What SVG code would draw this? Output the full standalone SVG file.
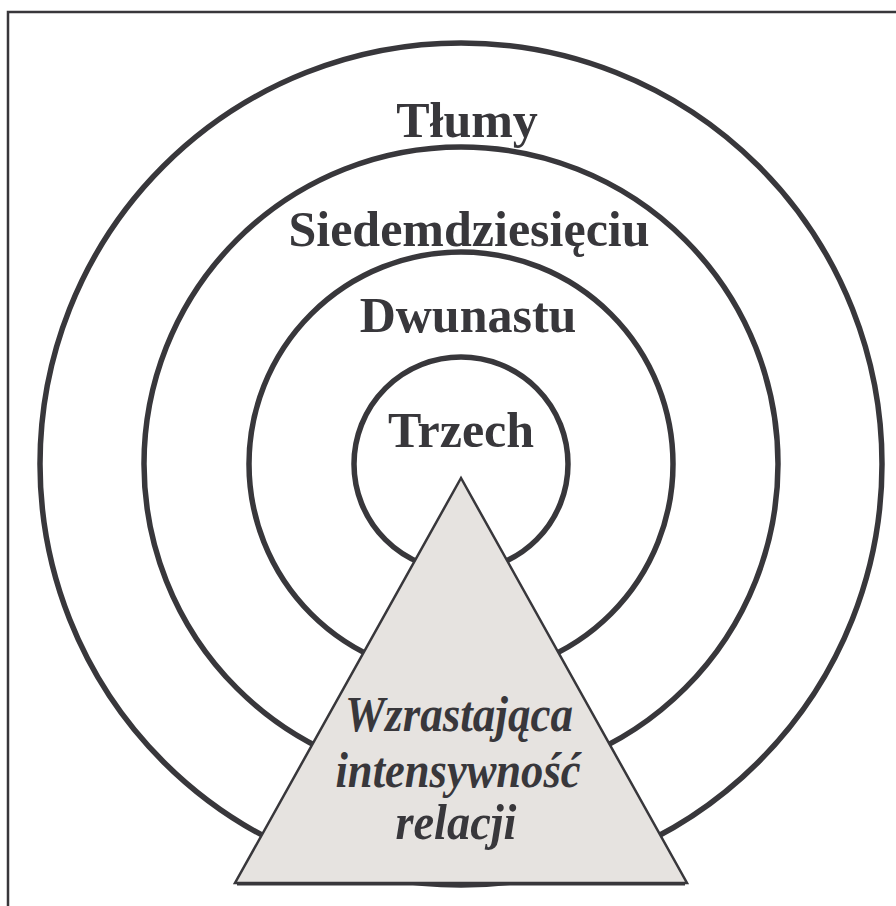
<svg xmlns="http://www.w3.org/2000/svg" width="896" height="906" viewBox="0 0 896 906">
<style>
.ring{fill:none;stroke:#38373b;stroke-width:5.5}
.lbl{font-family:"Liberation Serif","Times New Roman",serif;font-weight:bold;font-size:50px;fill:#38373b;text-anchor:middle}
.it{font-family:"Liberation Serif","Times New Roman",serif;font-weight:bold;font-style:italic;font-size:50px;fill:#38373b;text-anchor:middle}
</style>
<rect x="0" y="0" width="896" height="906" fill="#ffffff"/>
<rect x="8" y="12" width="900" height="910" fill="none" stroke="#38373b" stroke-width="2.5"/>
<g id="ring-tlumy"><circle class="ring" cx="461" cy="464" r="421"/><text class="lbl" x="467" y="137">Tłumy</text></g>
<g id="ring-siedemdziesieciu"><circle class="ring" cx="461" cy="464" r="317"/><text class="lbl" x="469" y="246">Siedemdziesięciu</text></g>
<g id="ring-dwunastu"><circle class="ring" cx="461" cy="464" r="212"/><text class="lbl" x="468" y="332">Dwunastu</text></g>
<g id="ring-trzech"><circle class="ring" cx="461" cy="464" r="107"/><text class="lbl" x="461" y="447">Trzech</text></g>
<g id="triangle">
<polygon points="461,478 235,883 687,883" fill="#e6e3e0" stroke="#38373b" stroke-width="2.5" stroke-linejoin="miter"/>
<line x1="237" y1="884" x2="685" y2="884" stroke="#38373b" stroke-width="3"/>
<text class="it" x="459" y="731" textLength="228" lengthAdjust="spacingAndGlyphs">Wzrastająca</text>
<text class="it" x="458" y="787" textLength="245" lengthAdjust="spacingAndGlyphs">intensywność</text>
<text class="it" x="456" y="839" textLength="121" lengthAdjust="spacingAndGlyphs">relacji</text>
</g>
<g id="connectors"></g>
</svg>
